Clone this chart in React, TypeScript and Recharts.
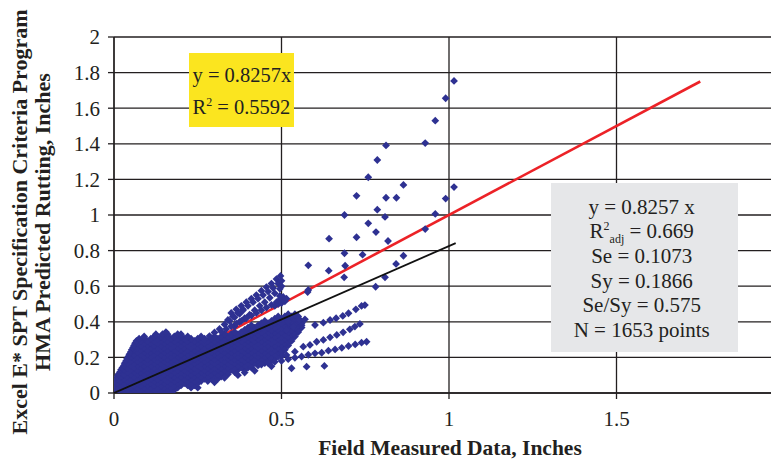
import React from "react";
import { ScatterChart, Scatter, XAxis, YAxis, CartesianGrid } from "recharts";

// Axis ticks (inches)
const xTicks = [0, 0.5, 1, 1.5, 2];
const yTicks = [0, 0.2, 0.4, 0.6, 0.8, 1, 1.2, 1.4, 1.6, 1.8, 2];

// Regression through origin (as printed on the chart)
const fitSlope = 0.8257;
const fitEndX = 1.02;
// Line of equality end point
const equalityEnd = 1.75;

// Dense cloud of small rut depths near the origin: [predicted, measured values in that band]
const coreRows: [number, number[]][] = [
  [0.005, [0.01, 0.03, 0.05, 0.07, 0.09, 0.11, 0.13, 0.15, 0.17]],
  [0.0175, [0.005, 0.02, 0.04, 0.06, 0.08, 0.1, 0.12, 0.14, 0.16, 0.18]],
  [0.03, [0.0, 0.01, 0.03, 0.05, 0.07, 0.09, 0.11, 0.13, 0.15, 0.17, 0.19, 0.23, 0.25]],
  [0.0425, [0.0, 0.02, 0.04, 0.06, 0.08, 0.1, 0.12, 0.14, 0.16, 0.18, 0.2, 0.22, 0.24]],
  [0.055, [0.005, 0.01, 0.03, 0.05, 0.07, 0.09, 0.11, 0.13, 0.15, 0.17, 0.19, 0.21, 0.23, 0.25]],
  [0.0675, [0.005, 0.02, 0.04, 0.06, 0.08, 0.1, 0.12, 0.14, 0.16, 0.18, 0.2, 0.22, 0.24, 0.26, 0.28]],
  [0.08, [0.01, 0.03, 0.05, 0.07, 0.09, 0.11, 0.13, 0.15, 0.17, 0.19, 0.21, 0.23, 0.25, 0.27, 0.29, 0.31]],
  [0.0925, [0.01, 0.02, 0.04, 0.06, 0.08, 0.1, 0.12, 0.14, 0.16, 0.18, 0.2, 0.22, 0.24, 0.26, 0.28, 0.3, 0.32]],
  [0.105, [0.013, 0.03, 0.05, 0.07, 0.09, 0.11, 0.13, 0.15, 0.17, 0.19, 0.21, 0.23, 0.25, 0.27, 0.29, 0.31, 0.33, 0.34]],
  [0.1175, [0.018, 0.04, 0.06, 0.08, 0.1, 0.12, 0.14, 0.16, 0.18, 0.2, 0.22, 0.24, 0.26, 0.28, 0.3, 0.32, 0.34, 0.36]],
  [0.13, [0.021, 0.03, 0.05, 0.07, 0.09, 0.11, 0.13, 0.15, 0.17, 0.19, 0.21, 0.23, 0.25, 0.27, 0.29, 0.31, 0.33, 0.35, 0.37, 0.39]],
  [0.1425, [0.025, 0.04, 0.06, 0.08, 0.1, 0.12, 0.14, 0.16, 0.18, 0.2, 0.22, 0.24, 0.26, 0.28, 0.3, 0.32, 0.34, 0.36, 0.38, 0.4, 0.41]],
  [0.155, [0.03, 0.05, 0.07, 0.09, 0.11, 0.13, 0.15, 0.17, 0.19, 0.21, 0.23, 0.25, 0.27, 0.29, 0.31, 0.33, 0.35, 0.37, 0.39, 0.41, 0.43]],
  [0.1675, [0.032, 0.04, 0.06, 0.08, 0.1, 0.12, 0.14, 0.16, 0.18, 0.2, 0.22, 0.24, 0.26, 0.28, 0.3, 0.32, 0.34, 0.36, 0.38, 0.4, 0.42, 0.44, 0.45]],
  [0.18, [0.036, 0.05, 0.07, 0.09, 0.11, 0.13, 0.15, 0.17, 0.19, 0.21, 0.23, 0.25, 0.27, 0.29, 0.31, 0.33, 0.35, 0.37, 0.39, 0.41, 0.43, 0.45, 0.47]],
  [0.1925, [0.039, 0.06, 0.08, 0.1, 0.12, 0.14, 0.16, 0.18, 0.2, 0.22, 0.24, 0.26, 0.28, 0.3, 0.32, 0.34, 0.36, 0.38, 0.4, 0.42, 0.44, 0.46, 0.48]],
  [0.205, [0.043, 0.05, 0.07, 0.09, 0.11, 0.13, 0.15, 0.17, 0.19, 0.21, 0.23, 0.25, 0.27, 0.29, 0.31, 0.33, 0.35, 0.37, 0.39, 0.41, 0.43, 0.45, 0.47, 0.49, 0.5]],
  [0.2175, [0.046, 0.06, 0.08, 0.1, 0.12, 0.14, 0.16, 0.18, 0.2, 0.22, 0.24, 0.26, 0.28, 0.3, 0.32, 0.34, 0.36, 0.38, 0.4, 0.42, 0.44, 0.46, 0.48, 0.5]],
  [0.23, [0.05, 0.07, 0.09, 0.11, 0.13, 0.15, 0.17, 0.19, 0.21, 0.23, 0.25, 0.27, 0.29, 0.31, 0.33, 0.35, 0.37, 0.39, 0.41, 0.43, 0.45, 0.47, 0.49, 0.5]],
  [0.2425, [0.053, 0.06, 0.08, 0.1, 0.12, 0.14, 0.16, 0.18, 0.2, 0.22, 0.24, 0.26, 0.28, 0.3, 0.32, 0.34, 0.36, 0.38, 0.4, 0.42, 0.44, 0.46, 0.48, 0.5, 0.51]],
  [0.255, [0.057, 0.07, 0.09, 0.11, 0.13, 0.15, 0.17, 0.19, 0.21, 0.23, 0.25, 0.27, 0.29, 0.31, 0.33, 0.35, 0.37, 0.39, 0.41, 0.43, 0.45, 0.47, 0.49, 0.51]],
  [0.2675, [0.06, 0.08, 0.1, 0.12, 0.14, 0.16, 0.18, 0.2, 0.22, 0.24, 0.26, 0.28, 0.3, 0.32, 0.34, 0.36, 0.38, 0.4, 0.42, 0.44, 0.46, 0.48, 0.5, 0.52]],
  [0.28, [0.063, 0.07, 0.09, 0.11, 0.13, 0.15, 0.17, 0.19, 0.21, 0.23, 0.25, 0.27, 0.29, 0.31, 0.33, 0.35, 0.37, 0.39, 0.41, 0.43, 0.45, 0.47, 0.49, 0.51, 0.52]],
  [0.2925, [0.067, 0.08, 0.1, 0.12, 0.14, 0.16, 0.18, 0.2, 0.22, 0.24, 0.26, 0.28, 0.3, 0.32, 0.34, 0.36, 0.38, 0.4, 0.42, 0.44, 0.46, 0.48, 0.5, 0.52, 0.53]],
  [0.305, [0.075, 0.09, 0.11, 0.13, 0.15, 0.17, 0.19, 0.21, 0.23, 0.25, 0.27, 0.29, 0.31, 0.33, 0.35, 0.37, 0.39, 0.41, 0.43, 0.45, 0.47, 0.49, 0.51, 0.53]],
  [0.3175, [0.09, 0.12, 0.14, 0.16, 0.18, 0.2, 0.22, 0.26, 0.3, 0.32, 0.34, 0.36, 0.38, 0.4, 0.42, 0.44, 0.46, 0.48, 0.5, 0.52, 0.54]],
  [0.33, [0.125, 0.145, 0.16, 0.19, 0.2, 0.33, 0.35, 0.37, 0.39, 0.41, 0.43, 0.45, 0.47, 0.49, 0.51, 0.53, 0.54]],
  [0.3425, [0.155, 0.36, 0.38, 0.4, 0.42, 0.44, 0.46, 0.48, 0.5, 0.52, 0.54, 0.55]],
  [0.355, [0.39, 0.41, 0.43, 0.45, 0.47, 0.49, 0.51, 0.53, 0.55]],
  [0.3675, [0.4, 0.42, 0.44, 0.46, 0.48, 0.5, 0.52, 0.54, 0.56]],
  [0.38, [0.41, 0.43, 0.45, 0.47, 0.49, 0.51, 0.53, 0.55, 0.56]],
  [0.3925, [0.44, 0.46, 0.48, 0.5, 0.52, 0.54, 0.56]],
  [0.405, [0.45, 0.47, 0.49, 0.51, 0.53, 0.55]],
  [0.4175, [0.48, 0.5, 0.52, 0.54, 0.55]],
  [0.43, [0.49, 0.51, 0.53, 0.55]],
  [0.4425, [0.52, 0.54]],
];

// Steep band running up to about (0.5, 0.65)
const steepBand: [number, number][] = [
  [0.27, 0.3], [0.285, 0.32], [0.3, 0.34], [0.315, 0.36], [0.33, 0.385], [0.345, 0.405], [0.36, 0.425], [0.375, 0.445], [0.385, 0.465],
  [0.35, 0.45], [0.365, 0.47], [0.38, 0.49], [0.395, 0.51], [0.41, 0.53], [0.425, 0.55], [0.44, 0.575], [0.455, 0.595], [0.47, 0.615], [0.485, 0.64], [0.497, 0.658],
  [0.34, 0.41], [0.355, 0.43], [0.37, 0.45], [0.385, 0.47], [0.4, 0.49], [0.415, 0.51], [0.43, 0.53], [0.445, 0.55], [0.46, 0.57], [0.475, 0.59], [0.49, 0.615], [0.5, 0.63],
  [0.36, 0.375], [0.375, 0.4], [0.39, 0.42], [0.405, 0.44], [0.42, 0.465], [0.435, 0.49], [0.45, 0.51], [0.465, 0.535], [0.48, 0.56], [0.495, 0.585], [0.5, 0.6],
];

// Band lying just above the line of equality
const equalityBand: [number, number][] = [
  [0.32, 0.345], [0.335, 0.36], [0.35, 0.375], [0.365, 0.39], [0.38, 0.405], [0.395, 0.42], [0.41, 0.435], [0.425, 0.45], [0.44, 0.465], [0.455, 0.48],
  [0.47, 0.495], [0.485, 0.51], [0.495, 0.525], [0.505, 0.54], [0.48, 0.49], [0.49, 0.5], [0.5, 0.505], [0.51, 0.515], [0.515, 0.53], [0.495, 0.545],
];

// Three sections trailing to the right of the cloud
const upperTrail: [number, number][] = [
  [0.52, 0.4], [0.535, 0.372], [0.516, 0.354], [0.555, 0.41], [0.57, 0.414], [0.6, 0.382], [0.625, 0.395], [0.645, 0.41], [0.663, 0.42], [0.683, 0.433], [0.7, 0.448], [0.722, 0.47], [0.739, 0.489], [0.749, 0.494],
];
const middleTrail: [number, number][] = [
  [0.515, 0.213], [0.54, 0.232], [0.565, 0.26], [0.585, 0.27], [0.605, 0.288], [0.625, 0.298], [0.645, 0.313], [0.665, 0.326], [0.684, 0.341], [0.704, 0.358], [0.719, 0.373], [0.734, 0.388],
];
const lowerTrail: [number, number][] = [
  [0.44, 0.16], [0.46, 0.168], [0.48, 0.175], [0.5, 0.18], [0.52, 0.19], [0.54, 0.198], [0.56, 0.205], [0.58, 0.215],
  [0.6, 0.223], [0.62, 0.226], [0.64, 0.238], [0.66, 0.245], [0.68, 0.254], [0.7, 0.264], [0.72, 0.273], [0.739, 0.283], [0.754, 0.288],
];

// Scattered sections below the cloud
const lowOutliers: [number, number][] = [
  [0.3, 0.06], [0.33, 0.085], [0.37, 0.1], [0.39, 0.115], [0.42, 0.125], [0.47, 0.15], [0.53, 0.139], [0.575, 0.148], [0.628, 0.152],
];

// Large measured ruts above 0.55 in.
const highOutliers: [number, number][] = [
  [1.015, 1.753], [0.99, 1.656], [0.959, 1.53], [0.929, 1.404], [0.812, 1.391], [0.786, 1.309], [0.759, 1.212], [0.864, 1.169], [1.015, 1.157],
  [0.724, 1.108], [0.812, 1.097], [0.843, 1.097], [0.99, 1.092], [0.786, 1.03], [0.688, 1.0], [0.959, 1.006], [0.809, 0.989], [0.759, 0.953],
  [0.929, 0.921], [0.782, 0.904], [0.642, 0.867], [0.724, 0.875], [0.818, 0.854], [0.688, 0.785], [0.742, 0.777], [0.864, 0.771],
  [0.58, 0.717], [0.641, 0.687], [0.69, 0.715], [0.842, 0.725], [0.687, 0.65], [0.809, 0.65], [0.781, 0.597], [0.58, 0.579], [0.578, 0.567],
];

const corePoints: [number, number][] = coreRows.flatMap(([y, xs]) => xs.map((x) => [x, y] as [number, number]));

const allPoints = [
  ...corePoints, ...steepBand, ...equalityBand, ...upperTrail, ...middleTrail, ...lowerTrail, ...lowOutliers, ...highOutliers,
].map(([x, y]) => ({ x, y }));

const equalityLine = [{ x: 0, y: 0 }, { x: equalityEnd, y: equalityEnd }];
const fitLine = [{ x: 0, y: 0 }, { x: fitEndX, y: fitSlope * fitEndX }];

const INK = "#231F20";
const SERIF = "'Liberation Serif', 'Times New Roman', serif";
const POINT_COLOR = "#2E3192";

const renderDiamond = (props: any) => {
  const { cx, cy } = props;
  const r = 3.9;
  return <path d={`M${cx},${cy - r}L${cx + r},${cy}L${cx},${cy + r}L${cx - r},${cy}Z`} fill={POINT_COLOR} />;
};
const renderNothing = () => <g />;

const XTick = (props: any) => {
  const { x, y, payload } = props;
  return (
    <text x={x} y={y} dy="0.71em" textAnchor="middle" fontFamily={SERIF} fontSize={21} fill={INK}>
      {String(payload.value)}
    </text>
  );
};
const YTick = (props: any) => {
  const { x, y, payload } = props;
  return (
    <text x={x} y={y} dy="0.355em" textAnchor="end" fontFamily={SERIF} fontSize={21} fill={INK}>
      {String(payload.value)}
    </text>
  );
};

export default function App() {
  return (
    <div style={{ position: "relative", width: 771, height: 455, overflow: "hidden", background: "#fff" }}>
      <ScatterChart width={790} height={455} margin={{ top: 29, right: 14, bottom: 30, left: 56 }}>
        <CartesianGrid stroke={INK} strokeWidth={1.3} />
        <XAxis
          type="number"
          dataKey="x"
          domain={[0, 2]}
          ticks={xTicks}
          interval={0}
          height={40}
          tickSize={6}
          tickMargin={12}
          tick={<XTick />}
          tickLine={{ stroke: INK, strokeWidth: 1.3 }}
          axisLine={{ stroke: INK, strokeWidth: 1.3 }}
          allowDataOverflow
        />
        <YAxis
          type="number"
          dataKey="y"
          domain={[0, 2]}
          ticks={yTicks}
          interval={0}
          width={50}
          tickSize={6}
          tickMargin={8}
          tick={<YTick />}
          tickLine={{ stroke: INK, strokeWidth: 1.3 }}
          axisLine={{ stroke: INK, strokeWidth: 1.3 }}
          allowDataOverflow
        />
        <Scatter data={equalityLine} line={{ stroke: "#EC2227", strokeWidth: 2.6 }} shape={renderNothing} isAnimationActive={false} />
        <Scatter data={allPoints} shape={renderDiamond} isAnimationActive={false} />
        <Scatter data={fitLine} line={{ stroke: "#111111", strokeWidth: 1.8 }} shape={renderNothing} isAnimationActive={false} />
      </ScatterChart>
      <svg width={771} height={455} style={{ position: "absolute", left: 0, top: 0, pointerEvents: "none" }}>
        <rect x={181} y={45} width={105} height={74} fill="#FBE51F" />
        <text x={184.5} y={73.5} fontFamily={SERIF} fontSize={20.5} fill={INK}>y = 0.8257x</text>
        <text x={184.5} y={105.5} fontFamily={SERIF} fontSize={20.5} fill={INK}>
          R<tspan fontSize={12} dy={-8}>2</tspan><tspan dy={8}> = 0.5592</tspan>
        </text>

        <rect x={543} y={175} width={187} height={169} fill="#E6E7E9" />
        <g fontFamily={SERIF} fontSize={21} fill={INK} textAnchor="middle">
          <text x={633.7} y={206}>y = 0.8257 x</text>
          <text x={633.7} y={230}>
            R<tspan fontSize={12} dy={-8}>2</tspan><tspan fontSize={12} dy={13}>adj</tspan><tspan dy={-5}> = 0.669</tspan>
          </text>
          <text x={633.7} y={254.5}>Se = 0.1073</text>
          <text x={633.7} y={279.5}>Sy = 0.1866</text>
          <text x={633.7} y={303.5}>Se/Sy = 0.575</text>
          <text x={633.7} y={328.5}>N = 1653 points</text>
        </g>

        <text x={442} y={447} textAnchor="middle" fontFamily={SERIF} fontSize={21.5} fontWeight="bold" fill={INK}>
          Field Measured Data, Inches
        </text>
        <g fontFamily={SERIF} fontSize={22} fontWeight="bold" fill={INK} textAnchor="middle">
          <text transform="translate(19,214) rotate(-90)">Excel E* SPT Specification Criteria Program</text>
          <text transform="translate(42,214) rotate(-90)">HMA Predicted Rutting, Inches</text>
        </g>
      </svg>
    </div>
  );
}
